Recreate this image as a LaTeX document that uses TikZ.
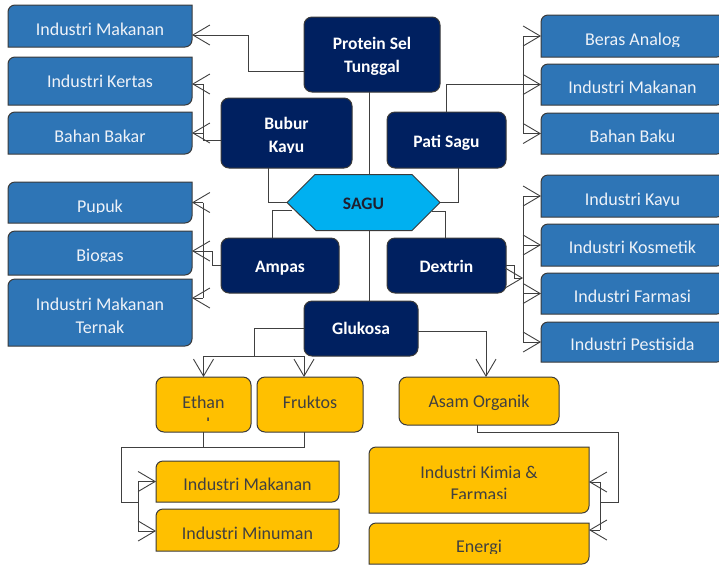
\documentclass[tikz,border=0pt]{standalone}
\usepackage{fontspec}
\setmainfont{Carlito}
\usetikzlibrary{arrows.meta,calc}
\definecolor{navy}{HTML}{002060}
\definecolor{blu}{HTML}{2E75B6}
\definecolor{cyn}{HTML}{00B0F0}
\definecolor{yel}{HTML}{FFC000}
\definecolor{bord}{HTML}{3A3A3A}
\definecolor{linec}{HTML}{404040}
\definecolor{txtw}{HTML}{EEF2F8}
\definecolor{txtd}{HTML}{404040}
\definecolor{sagut}{HTML}{1F1F2F}
\newcommand{\diagbg}[2]{\path[#2] (#1.south west) -- ($(#1.north west)+(0,7)$) arc[start angle=180,end angle=270,radius=7] -- (#1.north east) -- ($(#1.south east)+(0,-7)$) arc[start angle=0,end angle=90,radius=7] -- cycle;}
\begin{document}
\begin{tikzpicture}[x=1pt,y=-1pt,
 conn/.style={draw=linec,line width=0.9pt},
 arr/.style={conn,-{Straight Barb[length=17pt,width=20pt]}},
 frame/.style={inner sep=0pt,outer sep=0pt,draw=none},
 navybox/.style={frame,draw=bord,line width=1pt,fill=navy,rounded corners=8pt},
 yelbox/.style={frame,draw=bord,line width=1pt,fill=yel,rounded corners=8pt},
 bluebg/.style={draw=bord,line width=1pt,fill=blu},
 yelbg/.style={draw=bord,line width=1pt,fill=yel},
 cyanbg/.style={draw=bord,line width=1pt,fill=cyn},
 wtxt/.style={anchor=base,inner sep=0pt,text=txtw,align=center,font=\fontsize{18}{22.5}\selectfont},
 ntxt/.style={anchor=base,inner sep=0pt,text=white,align=center,font=\fontsize{17.5}{22.5}\selectfont\bfseries},
 ytxt/.style={anchor=base,inner sep=0pt,text=txtd,align=center,font=\fontsize{18}{22.5}\selectfont},
 stxt/.style={anchor=base,inner sep=0pt,text=sagut,font=\fontsize{17.5}{22.5}\selectfont\bfseries},
]
\fill[white] (0,0) rectangle (719,566);
\useasboundingbox (0,0) rectangle (719,566);

% ---- box frames ----
\node[frame,minimum width=184pt,minimum height=42pt] (l1) at (100,26) {};
\node[frame,minimum width=184pt,minimum height=48pt] (l2) at (100,81) {};
\node[frame,minimum width=184pt,minimum height=42pt] (l3) at (100,133) {};
\node[frame,minimum width=184pt,minimum height=41pt] (l4) at (100,202.5) {};
\node[frame,minimum width=184pt,minimum height=44pt] (l5) at (100,253) {};
\node[frame,minimum width=184pt,minimum height=67pt] (l6) at (100,312.5) {};
\node[frame,minimum width=183pt,minimum height=42pt] (r1) at (632.5,36) {};
\node[frame,minimum width=183pt,minimum height=41pt] (r2) at (632.5,84.5) {};
\node[frame,minimum width=183pt,minimum height=41pt] (r3) at (632.5,133.5) {};
\node[frame,minimum width=183pt,minimum height=42pt] (r4) at (632.5,196) {};
\node[frame,minimum width=183pt,minimum height=42pt] (r5) at (632.5,245) {};
\node[frame,minimum width=183pt,minimum height=41pt] (r6) at (632.5,293.5) {};
\node[frame,minimum width=183pt,minimum height=40pt] (r7) at (632.5,342) {};
\node[frame,minimum width=183pt,minimum height=41pt] (y1) at (247.5,481.5) {};
\node[frame,minimum width=183pt,minimum height=42pt] (y2) at (247.5,530) {};
\node[frame,minimum width=220pt,minimum height=66pt] (y3) at (479,480) {};
\node[frame,minimum width=220pt,minimum height=41pt] (y4) at (479,543.5) {};
\node[frame,minimum width=153pt,minimum height=56pt] (sagu) at (363.5,202.5) {};

\foreach \n in {l1,l2,l3,l4,l5,l6,r1,r2,r3,r4,r5,r6,r7}{\diagbg{\n}{bluebg}}
\foreach \n in {y1,y2,y3,y4}{\diagbg{\n}{yelbg}}
\path[cyanbg] (sagu.west) -- ($(sagu.north west)+(28,0)$) -- ($(sagu.north east)+(-28,0)$) -- (sagu.east) -- ($(sagu.south east)+(-28,0)$) -- ($(sagu.south west)+(29,0)$) -- cycle;

\node[navybox,minimum width=136pt,minimum height=75pt] (prot) at (372,54.5) {};
\node[navybox,minimum width=131pt,minimum height=70pt] (bub) at (286.5,133) {};
\node[navybox,minimum width=119pt,minimum height=56pt] (pati) at (446.5,140) {};
\node[navybox,minimum width=118pt,minimum height=55pt] (amp) at (280,265.5) {};
\node[navybox,minimum width=119pt,minimum height=55pt] (dex) at (446.5,265.5) {};
\node[navybox,minimum width=114pt,minimum height=55pt] (glu) at (361,328.5) {};
\node[yelbox,minimum width=95pt,minimum height=55pt] (eth) at (203.5,404.5) {};
\node[yelbox,minimum width=106pt,minimum height=55pt] (fru) at (310,404.5) {};
\node[yelbox,minimum width=160pt,minimum height=48pt] (asam) at (479,401) {};

% ---- texts (multi-line nodes: base = last line) ----
\node[wtxt] (t-l1) at (100,35) {Industri Makanan};
\node[wtxt] (t-l2) at (100,87) {Industri Kertas};
\node[wtxt] (t-l3) at (100,142) {Bahan Bakar};
\begin{scope}\clip (8,182) rectangle (192,212.5);
\node[wtxt] (t-l4) at (100,212) {Pupuk};\end{scope}
\begin{scope}\clip (8,231) rectangle (192,261.5);
\node[wtxt] (t-l5) at (100,261) {Biogas};\end{scope}
\node[wtxt] (t-l6) at (100,333) {Industri Makanan\\Ternak};
\begin{scope}\clip (541,15) rectangle (724,46);
\node[wtxt] (t-r1) at (632.5,45) {Beras Analog};\end{scope}
\begin{scope}\clip (541,64) rectangle (724,93.5);
\node[wtxt] (t-r2) at (632.5,93) {Industri Makanan};\end{scope}
\node[wtxt] (t-r3) at (632.5,142) {Bahan Baku};
\begin{scope}\clip (541,175) rectangle (724,205.5);
\node[wtxt] (t-r4) at (632.5,205) {Industri Kayu};\end{scope}
\begin{scope}\clip (541,224) rectangle (724,253.5);
\node[wtxt] (t-r5) at (632.5,253) {Industri Kosmetik};\end{scope}
\node[wtxt] (t-r6) at (632.5,302) {Industri Farmasi};
\node[wtxt] (t-r7) at (632.5,350) {Industri Pestisida};

\node[ntxt] (t-prot) at (372,72) {Protein Sel\\Tunggal};
\begin{scope}\clip (221,98) rectangle (352,152.5);
\node[ntxt] (t-bub) at (286.5,152) {Bubur\\Kayu};\end{scope}
\node[ntxt] (t-pati) at (446.5,147) {Pati Sagu};
\node[stxt] (t-sagu) at (363.5,209) {SAGU};
\node[ntxt] (t-amp) at (280,272) {Ampas};
\node[ntxt] (t-dex) at (446.5,272) {Dextrin};
\node[ntxt] (t-glu) at (361,334) {Glukosa};

\begin{scope}\clip (156,377) rectangle (251,420);
\node[ytxt] (t-eth) at (203.5,430.5) {Ethan\\ol};\end{scope}
\node[ytxt] (t-fru) at (310,408) {Fruktos};
\node[ytxt] (t-asam) at (479,407) {Asam Organik};
\begin{scope}\clip (156,461) rectangle (339,490.5);
\node[ytxt] (t-y1) at (247.5,490) {Industri Makanan};\end{scope}
\node[ytxt] (t-y2) at (247.5,539) {Industri Minuman};
\begin{scope}\clip (369,447) rectangle (589,498.5);
\node[ytxt] (t-y3) at (479,500.5) {Industri Kimia \&\\Farmasi};\end{scope}
\begin{scope}\clip (369,523) rectangle (589,553);
\node[ytxt] (t-y4) at (479,552) {Energi};\end{scope}

% ---- connector coordinates ----
\coordinate (bk) at (203,140);
\coordinate (lt) at (203,0);
\coordinate (rt) at (523,0);
\coordinate (sx) at (369,0);
\coordinate (dxe) at (523,278);
\coordinate (gj) at (254,356);
\coordinate (fa) at (304,377);
\coordinate (ey) at (121,447);
\coordinate (yt) at (138,502);
\coordinate (ak) at (618,432);
\coordinate (at) at (600,502);
\coordinate (l1a) at ([yshift=-9pt]l1.east);
\coordinate (l2a) at ([yshift=-3pt]l2.east);
\coordinate (l5a) at ([yshift=2pt]l5.east);
\coordinate (l6a) at ([yshift=14.5pt]l6.east);
\coordinate (pw) at ([yshift=-16.5pt]prot.west);
\coordinate (bw) at ([yshift=-7pt]bub.west);
\coordinate (bs) at ([xshift=-18.5pt]bub.south);
\coordinate (ps) at ([xshift=11.5pt]pati.south);
\coordinate (sl) at ($(sagu.west)+(5,7.5)$);
\coordinate (sr) at ($(sagu.east)+(-8,8.5)$);
\coordinate (an) at ([xshift=-8pt]amp.north);
\coordinate (dn) at ([xshift=-1.5pt]dex.north);
\coordinate (ge) at ([yshift=-2.5pt]glu.east);
\coordinate (asn) at ([xshift=7pt]asam.north);
\coordinate (ass) at ([xshift=-2pt]asam.south);
\coordinate (y2a) at ([yshift=-1pt]y2.west);
\coordinate (y3a) at ([yshift=-2pt]y3.east);
\coordinate (y4a) at ([yshift=13.5pt]y4.east);

% ---- connectors ----
\draw[arr] (pw) -- ++(-56,0) |- (l1a);
\draw[conn] (sagu.north -| sx) -- (prot.south -| sx);
\draw[arr] (bw) -- (bk) |- (l2a);
\draw[arr] (bk |- l3.east) -- (l3.east);
\draw[conn] (bs) |- (sagu.west);
\draw[conn] (sagu.east) -| (ps);
\draw[arr] (pati.north) |- (r2.west);
\draw[conn] (r1.west -| rt) -- (r3.west -| rt);
\draw[arr] (r1.west -| rt) -- (r1.west);
\draw[arr] (r3.west -| rt) -- (r3.west);

\draw[conn] (sl) -| (an);
\draw[arr] (amp.west) -- ++(-9,0) |- (l5a);
\draw[conn] (l4.east -| lt) -- (l6a -| lt);
\draw[arr] (l4.east -| lt) -- (l4.east);
\draw[arr] (l6a -| lt) -- (l6a);

\draw[conn] (sr) -| (dn);
\draw[arr] (dex.east) -- ++(8,0) |- (dxe);
\draw[conn] (r4.west -| rt) -- (r7.west -| rt);
\draw[arr] (r4.west -| rt) -- (r4.west);
\draw[arr] (r5.west -| rt) -- (r5.west);
\draw[arr] (r6.west -| rt) -- (r6.west);
\draw[arr] (r7.west -| rt) -- (r7.west);

\draw[conn] (sagu.south -| sx) -- (glu.north -| sx);
\draw[conn] (glu.west) -| (gj);
\draw[conn] (eth.north |- gj) -- (fa |- gj);
\draw[arr] (eth.north |- gj) -- (eth.north);
\draw[arr] (fa |- gj) -- (fa);
\draw[arr] (ge) -| (asn);

\draw[conn] (eth.south) |- (ey);
\draw[conn] (fa |- fru.south) -- (fa |- ey) -- (eth.south |- ey);
\draw[conn] (ey) |- (yt);
\draw[conn] (y1.west -| yt) -- (y2a -| yt);
\draw[arr] (y1.west -| yt) -- (y1.west);
\draw[arr] (y2a -| yt) -- (y2a);

\draw[conn] (ass) |- (ak) |- (at);
\draw[conn] (y3a -| at) -- (y4a -| at);
\draw[arr] (y3a -| at) -- (y3a);
\draw[arr] (y4a -| at) -- (y4a);
\end{tikzpicture}
\end{document}
